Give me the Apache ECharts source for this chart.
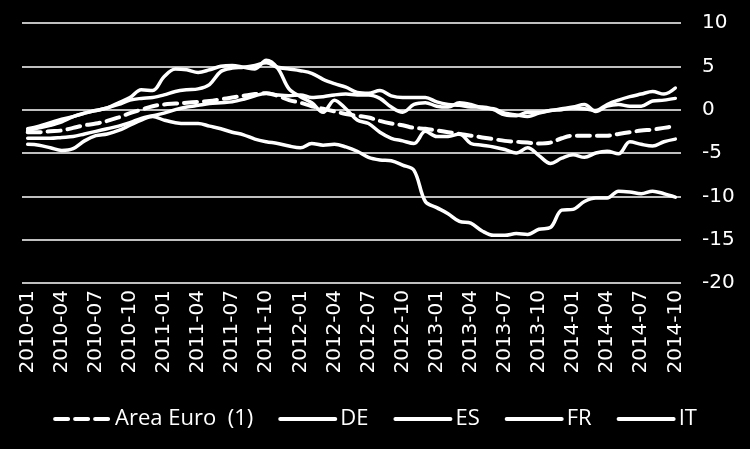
<!DOCTYPE html>
<html>
<head>
<meta charset="utf-8">
<script src="https://cdn.jsdelivr.net/npm/echarts@6/dist/echarts.min.js"></script>
<style>
html,body{margin:0;padding:0;background:#000;}
#c{width:750px;height:449px;}
</style>
</head>
<body>
<div id="c"></div>
<script>
var months = ["2010-01","2010-02","2010-03","2010-04","2010-05","2010-06","2010-07","2010-08","2010-09","2010-10","2010-11","2010-12",
"2011-01","2011-02","2011-03","2011-04","2011-05","2011-06","2011-07","2011-08","2011-09","2011-10","2011-11","2011-12",
"2012-01","2012-02","2012-03","2012-04","2012-05","2012-06","2012-07","2012-08","2012-09","2012-10","2012-11","2012-12",
"2013-01","2013-02","2013-03","2013-04","2013-05","2013-06","2013-07","2013-08","2013-09","2013-10","2013-11","2013-12",
"2014-01","2014-02","2014-03","2014-04","2014-05","2014-06","2014-07","2014-08","2014-09","2014-10"];

var seriesNames = ["Area Euro  (1)", "DE", "ES", "FR", "IT"];

var areaEuro = [-2.6,-2.6,-2.5,-2.4,-2.1,-1.8,-1.6,-1.3,-0.9,-0.4,0.0,0.4,
 0.6,0.7,0.8,0.9,1.0,1.2,1.4,1.6,1.8,1.9,1.6,1.1,
 0.8,0.4,0.1,-0.2,-0.5,-0.7,-0.9,-1.3,-1.6,-1.8,-2.1,-2.2,
 -2.4,-2.6,-2.8,-3.0,-3.2,-3.4,-3.6,-3.7,-3.8,-3.9,-3.8,-3.3,
 -3.0,-3.0,-3.0,-3.0,-2.8,-2.6,-2.4,-2.3,-2.1,-1.9];

var de = [-3.3,-3.3,-3.3,-3.2,-3.1,-2.8,-2.5,-2.2,-1.9,-1.5,-1.0,-0.7,
 -0.4,0.0,0.3,0.5,0.7,0.8,0.9,1.2,1.6,1.9,1.7,1.6,
 1.7,1.4,1.5,1.7,1.8,1.7,1.7,1.3,0.3,-0.3,0.6,0.8,
 0.4,0.3,0.8,0.6,0.2,0.1,-0.4,-0.6,-0.8,-0.4,-0.1,0.1,
 0.3,0.6,-0.2,0.4,0.6,0.4,0.4,1.0,1.1,1.3];

var es = [-4.0,-4.1,-4.4,-4.7,-4.5,-3.6,-3.0,-2.8,-2.4,-1.8,-1.2,-0.8,
 -1.2,-1.5,-1.6,-1.6,-1.9,-2.2,-2.6,-2.9,-3.4,-3.7,-3.9,-4.2,
 -4.4,-3.9,-4.1,-4.0,-4.3,-4.8,-5.5,-5.8,-5.9,-6.4,-7.0,-10.6,
 -11.3,-12.0,-12.9,-13.1,-14.0,-14.5,-14.5,-14.3,-14.4,-13.8,-13.6,-11.6,
 -11.5,-10.6,-10.2,-10.2,-9.4,-9.5,-9.7,-9.4,-9.7,-10.1];

var fr = [-2.4,-2.1,-1.8,-1.4,-0.8,-0.4,-0.1,0.2,0.6,1.1,1.3,1.4,
 1.7,2.1,2.3,2.4,2.9,4.4,4.8,4.9,5.1,5.4,4.9,4.7,
 4.5,4.2,3.5,3.0,2.6,2.0,1.9,2.2,1.6,1.4,1.4,1.4,
 0.9,0.6,0.5,0.3,0.3,0.0,-0.6,-0.7,-0.3,-0.3,-0.1,0.0,
 0.2,0.1,-0.1,0.6,1.1,1.5,1.8,2.1,1.8,2.5];

var it = [-2.2,-1.9,-1.5,-1.1,-0.8,-0.4,-0.1,0.2,0.8,1.4,2.3,2.2,
 3.8,4.7,4.6,4.3,4.6,5.0,5.1,4.9,4.7,5.7,4.8,2.4,
 1.5,0.8,-0.3,1.1,0.1,-1.2,-1.6,-2.6,-3.3,-3.6,-3.9,-2.5,
 -3.1,-3.1,-2.8,-3.9,-4.1,-4.3,-4.6,-5.0,-4.4,-5.3,-6.2,-5.6,
 -5.2,-5.5,-5.0,-4.8,-5.1,-3.7,-4.0,-4.2,-3.7,-3.4];

var yTicks = [-20, -15, -10, -5, 0, 5, 10];

var chart = echarts.init(document.getElementById('c'), null, {renderer: 'canvas'});

function lineSeries(name, data, dashed) {
  return {
    name: name,
    type: 'line',
    data: data,
    smooth: 0.35,
    symbol: 'none',
    showSymbol: false,
    lineStyle: {
      color: '#ffffff',
      width: dashed ? 4 : 3.5,
      type: dashed ? [13, 7] : 'solid',
      cap: 'round'
    },
    itemStyle: {color: '#ffffff'},
    emphasis: {disabled: true},
    animation: false
  };
}

chart.setOption({
  backgroundColor: '#000000',
  animation: false,
  grid: {left: 22, right: 69, top: 23, bottom: 166, containLabel: false},
  legend: {
    data: seriesNames,
    left: 'center',
    top: 403,
    itemWidth: 55,
    itemHeight: 14,
    itemGap: 25,
    itemStyle: {opacity: 0},
    lineStyle: {width: 4},
    textStyle: {color: '#ffffff', fontFamily: 'Open Sans', fontSize: 22}
  },
  xAxis: {
    type: 'category',
    data: months,
    boundaryGap: true,
    axisLine: {show: false},
    axisTick: {show: false},
    axisLabel: {
      interval: 2,
      rotate: 90,
      color: '#ffffff',
      fontFamily: 'DejaVu Sans',
      fontSize: 20,
      margin: 7
    },
    splitLine: {show: false}
  },
  yAxis: {
    type: 'value',
    position: 'right',
    min: yTicks[0],
    max: yTicks[yTicks.length - 1],
    interval: 5,
    axisLine: {show: false},
    axisTick: {show: false},
    axisLabel: {color: '#ffffff', fontFamily: 'DejaVu Sans', fontSize: 20, margin: 21},
    splitLine: {show: true, lineStyle: {color: '#ffffff', width: 1.5}}
  },
  series: [
    lineSeries(seriesNames[0], areaEuro, true),
    lineSeries(seriesNames[1], de, false),
    lineSeries(seriesNames[2], es, false),
    lineSeries(seriesNames[3], fr, false),
    lineSeries(seriesNames[4], it, false)
  ]
});
</script>
</body>
</html>
